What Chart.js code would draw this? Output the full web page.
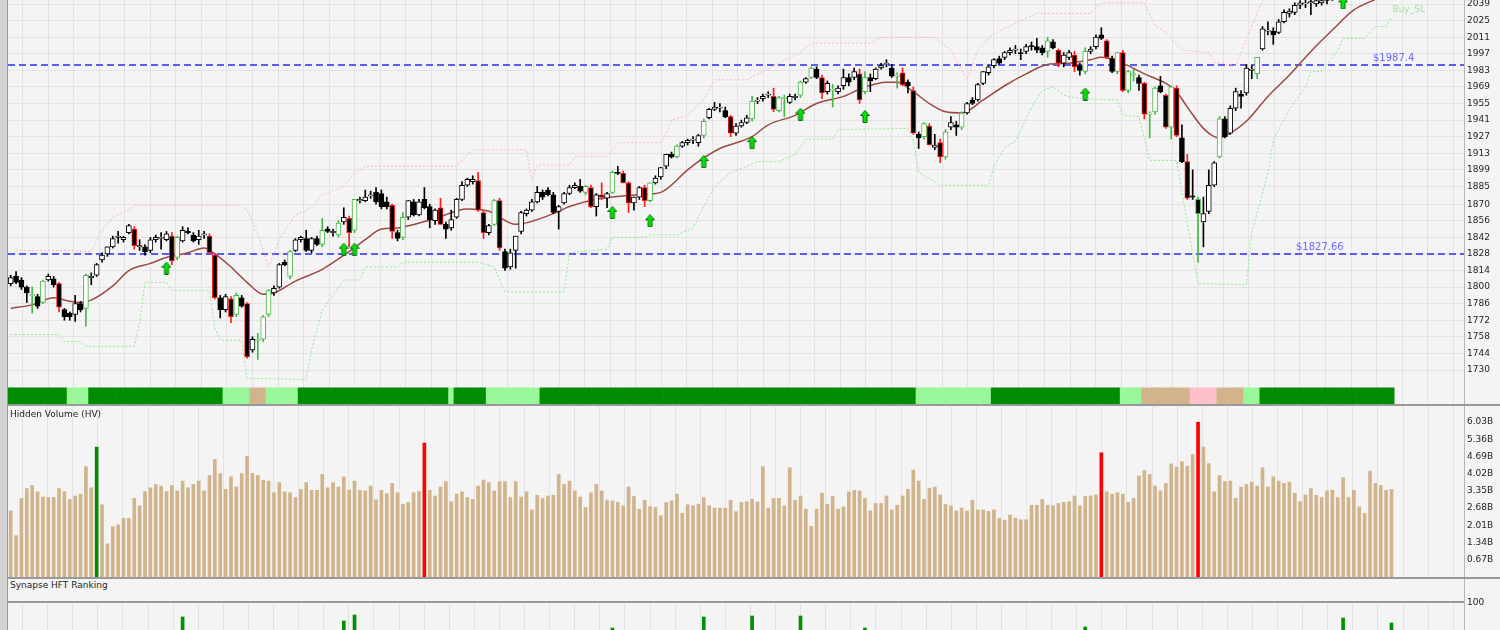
<!DOCTYPE html>
<html lang="en">
<head>
<meta charset="utf-8">
<title>Hidden Volume / Synapse HFT Ranking</title>
<script src="https://cdn.jsdelivr.net/npm/chart.js@4.4.1/dist/chart.umd.min.js"></script>
<style>
    html, body { margin: 0; padding: 0; }
    body { width: 1500px; height: 630px; overflow: hidden; position: relative; background: #f4f4f4; font-family: "DejaVu Sans", sans-serif; }
    canvas { position: absolute; left: 0; }
    #priceChart { top: 0; }
    #volumeChart { top: 406px; }
    #hftChart { top: 590px; }
    .left-strip { position: absolute; left: 0; top: 0; width: 7px; height: 630px; background: #d3d3d3; border-right: 1px solid #9a9a9a; }
    .axis-line { position: absolute; left: 1464px; top: 0; width: 1px; height: 630px; background: #b8b8b8; }
    .sep { position: absolute; left: 8px; height: 2px; background: #999; }
    .panel-title { position: absolute; left: 10px; font-size: 9px; color: #222; }
</style>
</head>
<body>
<div class="left-strip"></div>
<div class="axis-line"></div>
<canvas id="priceChart" width="1500" height="404"></canvas>
<canvas id="volumeChart" width="1500" height="171"></canvas>
<canvas id="hftChart" width="1500" height="113"></canvas>
<div class="sep" style="top:404px;width:1492px"></div>
<div class="sep" style="top:577px;width:1492px"></div>
<div class="sep" style="top:601px;width:1456px"></div>
<div class="panel-title" style="top:409px">Hidden Volume (HV)</div>
<div class="panel-title" style="top:580px">Synapse HFT Ranking</div>
<script>
// daily candles: [open, high, low, close]
const candles = [
    [1803,1810,1801,1808],[1809,1813,1803,1804],[1806,1808,1798,1800],[1800,1801,1787,1795],[1793,1800,1778,1794],
    [1792,1794,1782,1784],[1787,1806,1786,1805],[1806,1811,1805,1809],[1807,1809,1800,1802],[1803,1804,1779,1783],
    [1781,1782,1772,1775],[1778,1779,1772,1775],[1777,1793,1771,1786],[1786,1788,1779,1781],[1782,1811,1767,1810],
    [1808,1812,1802,1809],[1810,1820,1809,1819],[1823,1829,1821,1827],[1828,1834,1826,1834],[1834,1843,1833,1841],
    [1842,1847,1837,1843],[1840,1843,1838,1842],[1846,1853,1845,1852],[1849,1851,1832,1835],[1834,1840,1831,1835],
    [1834,1836,1827,1830],[1831,1842,1829,1840],[1840,1844,1838,1842],[1841,1846,1832,1842],[1840,1847,1839,1845],
    [1843,1846,1819,1822],[1825,1843,1823,1842],[1839,1851,1838,1848],[1847,1850,1845,1846],[1844,1846,1838,1839],
    [1840,1848,1836,1843],[1844,1847,1841,1845],[1843,1845,1828,1829],[1827,1828,1790,1791],[1791,1793,1774,1781],
    [1781,1794,1779,1792],[1790,1792,1770,1775],[1777,1795,1775,1793],[1791,1793,1783,1784],[1786,1787,1740,1741],
    [1747,1758,1745,1756],[1755,1761,1739,1756],[1756,1776,1754,1775],[1777,1798,1775,1797],[1795,1801,1793,1799],
    [1800,1820,1799,1819],[1821,1823,1818,1819],[1809,1831,1807,1830],[1831,1841,1830,1840],[1840,1843,1838,1842],
    [1841,1848,1830,1831],[1831,1842,1829,1841],[1841,1843,1835,1836],[1836,1858,1834,1848],[1849,1851,1846,1847],
    [1846,1849,1843,1847],[1844,1856,1842,1854],[1855,1867,1853,1859],[1858,1860,1834,1846],[1848,1874,1846,1874],
    [1873,1876,1871,1874],[1873,1882,1872,1876],[1877,1881,1875,1878],[1880,1884,1870,1872],[1879,1882,1866,1868],
    [1872,1876,1866,1868],[1869,1870,1841,1847],[1846,1848,1839,1841],[1842,1863,1840,1859],[1859,1873,1857,1873],
    [1872,1874,1860,1861],[1861,1874,1860,1872],[1874,1884,1866,1867],[1868,1870,1850,1857],[1856,1866,1853,1865],
    [1867,1875,1853,1853],[1853,1855,1841,1849],[1850,1865,1848,1857],[1859,1875,1858,1874],[1874,1889,1873,1886],
    [1886,1892,1885,1891],[1889,1894,1887,1891],[1890,1897,1864,1865],[1863,1864,1841,1846],[1846,1853,1844,1852],
    [1853,1874,1852,1873],[1873,1875,1831,1833],[1830,1832,1814,1816],[1817,1832,1815,1829],[1831,1843,1816,1843],
    [1847,1864,1845,1863],[1862,1866,1860,1865],[1865,1874,1864,1872],[1872,1885,1871,1880],[1880,1882,1874,1876],
    [1882,1884,1877,1878],[1878,1880,1862,1863],[1864,1869,1849,1868],[1871,1880,1870,1879],[1879,1886,1878,1884],
    [1884,1888,1883,1886],[1885,1891,1880,1881],[1880,1886,1878,1885],[1884,1886,1867,1868],[1868,1879,1860,1878],
    [1878,1888,1874,1876],[1875,1880,1867,1879],[1880,1898,1879,1897],[1897,1902,1895,1896],[1896,1898,1888,1888],
    [1888,1889,1863,1871],[1871,1876,1865,1876],[1876,1885,1874,1884],[1884,1886,1868,1873],[1873,1888,1872,1888],
    [1888,1894,1887,1892],[1893,1901,1891,1901],[1902,1912,1900,1912],[1912,1914,1909,1910],[1910,1920,1909,1919],
    [1919,1923,1918,1922],[1922,1925,1920,1924],[1924,1927,1921,1925],[1922,1929,1919,1928],[1928,1942,1926,1940],
    [1943,1951,1942,1950],[1950,1956,1949,1952],[1951,1955,1948,1952],[1949,1952,1943,1944],[1944,1945,1927,1930],
    [1930,1938,1928,1936],[1936,1941,1935,1939],[1939,1945,1938,1943],[1942,1961,1940,1957],[1957,1960,1955,1958],
    [1959,1963,1957,1961],[1962,1965,1960,1963],[1961,1968,1948,1950],[1949,1961,1948,1960],[1959,1962,1944,1960],
    [1956,1963,1955,1961],[1960,1963,1958,1961],[1962,1974,1960,1973],[1973,1977,1972,1976],[1977,1986,1976,1985],
    [1984,1986,1976,1977],[1977,1979,1959,1964],[1965,1974,1963,1972],[1966,1971,1952,1967],[1965,1970,1963,1968],
    [1970,1984,1967,1977],[1977,1980,1970,1973],[1977,1985,1975,1982],[1980,1984,1955,1958],[1965,1982,1963,1977],
    [1977,1980,1965,1974],[1976,1985,1975,1984],[1985,1989,1984,1987],[1988,1992,1986,1989],[1985,1988,1977,1978],
    [1978,1981,1968,1979],[1981,1985,1970,1971],[1973,1975,1964,1970],[1966,1969,1929,1930],[1929,1931,1917,1926],
    [1927,1939,1925,1938],[1936,1938,1920,1920],[1918,1929,1916,1920],[1922,1925,1905,1910],[1910,1933,1908,1931],
    [1935,1944,1933,1939],[1937,1940,1928,1935],[1935,1948,1933,1947],[1947,1956,1946,1955],[1958,1960,1954,1955],
    [1958,1972,1957,1971],[1972,1982,1971,1982],[1981,1987,1979,1986],[1987,1993,1985,1992],[1993,1995,1988,1989],
    [1994,1999,1992,1998],[1998,2002,1996,2000],[2000,2004,1997,2001],[1998,2001,1992,1997],[1999,2005,1997,2003],
    [2004,2007,2000,2003],[2003,2010,1998,2000],[2002,2004,1996,1998],[1999,2011,1994,2008],[2007,2009,2001,2002],
    [2000,2001,1986,1989],[1989,1998,1986,1996],[1994,2000,1992,1998],[1996,1999,1982,1986],[1987,1989,1979,1983],
    [1982,2002,1980,1999],[1999,2003,1997,2001],[2003,2013,2001,2011],[2013,2019,2009,2010],[2008,2009,1993,1994],
    [1993,1995,1981,1982],[1982,1998,1980,1998],[1998,2000,1965,1966],[1966,1983,1964,1982],[1979,1984,1974,1980],
    [1977,1979,1966,1972],[1972,1973,1942,1946],[1946,1948,1926,1947],[1948,1969,1946,1968],[1970,1978,1964,1965],
    [1962,1963,1934,1935],[1935,1970,1925,1969],[1968,1970,1927,1928],[1926,1937,1905,1906],[1906,1912,1874,1875],
    [1877,1899,1874,1876],[1874,1876,1821,1862],[1855,1876,1834,1862],[1864,1899,1862,1886],[1886,1906,1885,1905],
    [1910,1944,1909,1942],[1942,1944,1926,1927],[1930,1953,1929,1951],[1951,1968,1949,1965],[1963,1966,1951,1961],
    [1964,1988,1962,1985],[1983,1987,1976,1984],[1980,1994,1976,1994],[2001,2020,2000,2018],[2016,2024,2013,2017],
    [2016,2019,2005,2013],[2015,2026,2014,2024],[2024,2034,2023,2032],[2031,2035,2028,2033],[2032,2040,2030,2038],
    [2038,2042,2035,2040],[2039,2043,2036,2040],[2040,2044,2030,2041],[2039,2044,2037,2042],[2040,2044,2038,2042],
    [2042,2047,2039,2045],[2045,2049,2042,2047],[2047,2051,2044,2049],[2049,2052,2046,2048],[2048,2053,2045,2051],
    [2051,2056,2049,2055],[2055,2059,2052,2057],[2057,2061,2054,2059],[2059,2063,2055,2058],[2058,2062,2055,2061],
    [2061,2066,2058,2064],[2064,2067,2060,2062],[2062,2068,2060,2066]
];

// candle outline signal: n = plain, g = green, r = red
const candleTone = (
    'nnnngngnnr' + 'nnnngnnnnn' + 'nnnrnnnnnn' + 'rgnnnnnrrn' + 'nrgnrngggn' +
    'nngnnnnngn' + 'ngnrgnnnnn' + 'nrngnnnnnn' + 'rnnnnnnrrn' + 'grnnnnnnnn' +
    'nnnnnnngrn' + 'rngnrrnnrg' + 'nnnngnnnng' + 'nnnnrnnngn' + 'nnrggnngng' +
    'nrngnnnnrg' + 'nnnnngrnrn' + 'grnrgnngnn' + 'nnnnnnnnnn' + 'nnngnrnnrn' +
    'gnnnrngrgg' + 'nrggnrgrnr' + 'ngnnngnnnn' + 'nngnnnnnnn' + 'nnnnnnnnnn' + 'nnnnnnnn'
).split('');

// moving average, read at points along the line: [bar, price]
const maPoints = [
    [0,1782],[4,1785],[8,1791],[11,1788],[13,1787],[15,1789],[19,1801],[22,1814],[26,1820],[29,1825],
    [33,1829],[36,1833],[38,1828],[41,1817],[44,1804],[47,1794],[49,1795],[53,1805],[58,1815],[63,1830],
    [66,1840],[69,1849],[72,1850],[79,1858],[85,1866],[89,1864],[94,1853],[101,1862],[104,1868],[110,1875],
    [117,1878],[121,1880],[126,1899],[128,1906],[132,1917],[138,1927],[141,1937],[146,1945],[150,1955],[155,1961],
    [159,1969],[163,1973],[165,1973],[168,1965],[171,1955],[174,1948],[177,1947],[181,1958],[185,1970],[189,1980],
    [193,1988],[197,1989],[201,1992],[203,1994],[206,1991],[211,1980],[215,1972],[217,1965],[219,1952],[222,1934],
    [224,1927],[225,1926],[227,1930],[230,1940],[234,1961],[238,1979],[242,1999],[246,2017],[250,2034],[254,2043],
    [257,2050]
];

// upper channel (pink dotted)
const upperPoints = [
    [1,1831],[10,1831],[15,1830],[17,1848],[19,1859],[22,1865],[23,1869],[43,1869],[44,1865],[46,1845],
    [48,1817],[50,1840],[53,1861],[56,1867],[58,1878],[62,1885],[64,1896],[66,1902],[83,1902],[86,1916],
    [96,1916],[97,1890],[98,1903],[104,1903],[105,1910],[111,1910],[113,1922],[121,1922],[122,1930],[123,1941],
    [126,1945],[129,1958],[131,1975],[137,1975],[142,1987],[147,1998],[149,2006],[160,2006],[162,2011],[172,2011],
    [175,2000],[178,1975],[180,2000],[183,2014],[189,2027],[191,2031],[201,2031],[203,2040],[211,2040],[213,2021],
    [215,2015],[218,2000],[223,1998],[224,1990],[228,1987],[230,2009],[233,2042],[235,2055]
];

// lower channel (green dotted, Buy_SL)
const lowerPoints = [
    [0,1760],[9,1760],[10,1754],[13,1754],[14,1750],[23,1750],[24,1770],[25,1804],[29,1804],[30,1797],
    [37,1797],[38,1766],[39,1755],[43,1755],[44,1723],[55,1722],[56,1747],[58,1781],[62,1806],[65,1806],
    [66,1817],[72,1817],[73,1821],[87,1821],[90,1817],[92,1796],[103,1796],[104,1829],[111,1832],[112,1842],
    [118,1842],[119,1844],[124,1844],[127,1850],[129,1868],[131,1885],[134,1897],[137,1902],[139,1906],[143,1906],
    [146,1912],[148,1925],[153,1925],[154,1933],[167,1934],[168,1924],[169,1897],[173,1886],[182,1886],[183,1902],
    [185,1918],[187,1923],[190,1952],[192,1966],[194,1969],[196,1962],[199,1959],[206,1958],[207,1945],[210,1944],
    [212,1907],[217,1907],[219,1854],[221,1803],[230,1802],[231,1846],[234,1896],[235,1924],[238,1950],[241,1969],
    [242,1982],[244,1982],[247,2000],[248,2010],[252,2010],[254,2020],[256,2020],[257,2028]
];

// buy signals under the candles: [bar, price]
const buyArrows = [
    [29,1816],[62,1832],[64,1832],[112,1863],[119,1856],[129,1906],[138,1922],[147,1946],[159,1944],[200,1963],[248,2040]
];

const levels = [1987.4, 1827.66];
const priceTicks = [1730,1744,1758,1772,1786,1800,1814,1828,1842,1856,1870,1885,1899,1913,1927,1941,1955,1969,1983,1997,2011,2025,2039];

// trend strip under the price panel: last bar of each run and its state
const bandEnds = [10,14,39,44,47,53,81,82,88,98,168,182,206,210,219,224,229,232,257];
const bandStates = ['strong','weak','strong','weak','neutral','weak','strong','weak','strong','weak','strong','weak','strong','weak','neutral','bear','neutral','weak','strong'];

// hidden volume, billions
const volumes = [
    2.57,1.61,3.06,3.44,3.56,3.31,3.11,3.09,3.09,3.44, 3.32,3.02,3.15,3.22,4.29,3.47,5.05,2.81,1.29,1.96,
    2.03,2.28,2.28,3.06,2.77,3.32,3.47,3.60,3.54,3.32, 3.56,3.35,3.73,3.47,3.60,3.73,3.35,3.95,4.57,4.02,
    3.41,3.90,3.50,4.02,4.70,4.03,3.95,3.76,3.73,3.28, 3.67,3.31,3.28,3.09,3.41,3.67,3.37,3.37,3.99,3.47,
    3.67,3.50,3.89,3.38,3.73,3.37,3.35,3.54,3.00,3.37, 3.24,3.64,3.28,2.83,2.90,3.28,3.32,5.21,3.37,3.15,
    3.50,3.71,2.93,3.22,3.31,3.09,3.02,3.54,3.77,3.67, 3.35,3.71,3.71,3.09,3.71,3.11,3.31,2.61,3.18,3.05,
    3.15,3.18,3.99,3.60,3.73,3.35,3.11,2.70,3.28,3.60, 3.35,2.99,2.96,2.90,2.77,3.50,3.13,2.64,2.99,2.74,
    2.70,2.38,2.90,2.96,3.22,2.48,2.81,2.77,2.83,3.09, 2.77,2.68,2.68,2.68,2.99,2.54,2.90,2.93,
    3.02,2.92,4.29,2.68,3.06,3.06,2.77,4.25,2.99,3.15, 2.64,1.97,2.64,3.26,2.83,3.13,2.64,2.73,3.31,3.37,
    3.35,3.06,2.57,2.86,2.86,3.15,2.61,2.79,3.15,3.41, 4.16,3.73,3.02,3.45,3.50,3.19,2.83,2.77,2.57,2.68,
    2.57,2.99,2.61,2.61,2.55,2.61,2.28,2.21,2.41,2.29, 2.23,2.23,2.79,2.79,3.02,2.79,2.77,2.86,2.90,2.93,
    3.15,2.77,3.13,3.15,3.19,4.83,3.31,3.22,3.28,3.22, 2.90,3.06,3.93,4.14,3.99,3.54,3.35,3.64,4.40,4.27,
    4.48,4.31,4.76,6.02,5.05,4.41,3.31,3.95,3.71,3.73, 3.06,3.50,3.60,3.69,3.54,4.25,3.50,3.90,3.73,3.64,
    3.69,3.26,2.93,3.19,3.44,3.18,3.09,3.35,3.37,3.09, 3.86,3.09,3.37,2.73,2.47,4.12,3.64,3.56,3.37,3.41
];
const volumeGreen = [16];
const volumeRed = [77, 203, 221];
const volumeTicks = [0.67, 1.34, 2.01, 2.68, 3.35, 4.02, 4.69, 5.36, 6.03];

// Synapse HFT ranking spikes: [bar, rank]
const hftSpikes = [[32,86],[62,82],[64,88],[112,75],[129,86],[138,87],[147,87],[159,75],[200,76],[248,85],[257,80]];
const hftTicks = [100];

const N = candles.length;
const SLOTS = 271;  // bars plus the empty space on the right
const labels = Array.from({ length: SLOTS }, (_, i) => i);

const GRID = '#e3e3e3';
const TEXT = '#1e1e1e';
const toneColors = { n: '#000000', g: '#45b845', r: '#ff1a1a' };
const bandColors = { strong: '#008c00', weak: '#99f799', neutral: '#d2b48c', bear: '#ffc0cb' };

Chart.defaults.font.family = '"DejaVu Sans", sans-serif';

function sparse(points) {
    const out = new Array(N).fill(null);
    points.forEach(([i, v]) => { out[i] = v; });
    return out;
}

function gridAxis() {
    return {
        type: 'linear', position: 'bottom', min: -0.57, max: 56.42,
        ticks: { display: false, stepSize: 1, includeBounds: false },
        grid: { color: GRID, drawTicks: false },
        border: { display: false },
        afterFit: s => { s.height = 0; }
    };
}

function rightAxis(min, max, ticks, format, showGrid) {
    return {
        position: 'right', min: min, max: max,
        afterBuildTicks: s => { s.ticks = ticks.map(v => ({ value: v })); },
        ticks: { color: TEXT, font: { size: 9 }, padding: 3, callback: v => format(v) },
        grid: { display: showGrid, color: GRID, drawTicks: false },
        border: { display: true, color: '#b8b8b8' },
        // keep the plot flush with the panel edges, labels may overhang
        afterFit: s => {
            s.width = 36;
            s.paddingTop = 0;
            s.paddingBottom = 0;
        }
    };
}

function panelLayout(top) {
    return { autoPadding: false, padding: { left: 8, right: 0, top: top, bottom: 0 } };
}

const baseOptions = {
    responsive: false,
    animation: false,
    devicePixelRatio: 1,
    events: [],
    plugins: { legend: { display: false }, tooltip: { enabled: false } }
};

// green up-arrow marker
const arrowImg = document.createElement('canvas');
arrowImg.width = 10;
arrowImg.height = 13;
(() => {
    const g = arrowImg.getContext('2d');
    g.beginPath();
    g.moveTo(5, 0.5);
    g.lineTo(9.5, 5.5);
    g.lineTo(7, 5.5);
    g.lineTo(7, 12.5);
    g.lineTo(3, 12.5);
    g.lineTo(3, 5.5);
    g.lineTo(0.5, 5.5);
    g.closePath();
    g.fillStyle = '#00e600';
    g.fill();
    g.strokeStyle = '#0b6e0b';
    g.lineWidth = 1;
    g.stroke();
})();

const isUp = candles.map(c => c[3] >= c[0]);
const bodyFill = isUp.map(u => (u ? '#ffffff' : '#000000'));
const bodyBorder = candleTone.map(t => toneColors[t]);
const wickColor = candleTone.map(t => toneColors[t]);

const bandColorList = [];
let runStart = 0;
bandEnds.forEach((end, k) => {
    for (let i = runStart; i <= end; i++) bandColorList[i] = bandColors[bandStates[k]];
    runStart = end + 1;
});

const levelPlugin = {
    id: 'levels',
    beforeDatasetsDraw(chart) {
        const { ctx, chartArea } = chart;
        const y = chart.scales.y;
        ctx.save();
        ctx.strokeStyle = '#5c5cf2';
        ctx.lineWidth = 2;
        ctx.setLineDash([7, 4]);
        levels.forEach(level => {
            const py = Math.round(y.getPixelForValue(level));
            ctx.beginPath();
            ctx.moveTo(chartArea.left, py);
            ctx.lineTo(chartArea.right, py);
            ctx.stroke();
        });
        ctx.restore();
    },
    afterDatasetsDraw(chart) {
        const { ctx, chartArea } = chart;
        const y = chart.scales.y;
        const offsets = [91, 168];
        ctx.save();
        ctx.font = '10px "DejaVu Sans"';
        ctx.fillStyle = '#6a6aff';
        ctx.textBaseline = 'bottom';
        levels.forEach((level, k) => {
            ctx.fillText('$' + level, chartArea.right - offsets[k], y.getPixelForValue(level) - 2);
        });
        // name of the lower channel at its last point
        const meta = chart.getDatasetMeta(2);
        const last = meta.data[N - 1];
        ctx.fillStyle = '#98e898';
        ctx.font = '9px "DejaVu Sans"';
        ctx.textBaseline = 'middle';
        ctx.fillText('Buy_SL', last.x + 1, last.y - 7);
        ctx.restore();
    }
};

new Chart(document.getElementById('priceChart'), {
    data: {
        labels: labels,
        datasets: [
            {
                type: 'bar', data: bandColorList.map(() => [0, 1]), backgroundColor: bandColorList,
                xAxisID: 'x', yAxisID: 'yb', grouped: false, barPercentage: 1, categoryPercentage: 1, order: 10
            },
            {
                type: 'line', data: sparse(upperPoints), borderColor: '#ffb4bf', borderWidth: 1, borderDash: [2, 2],
                pointRadius: 0, spanGaps: true, xAxisID: 'x', yAxisID: 'y', order: 9
            },
            {
                type: 'line', data: sparse(lowerPoints), borderColor: '#8fe88f', borderWidth: 1, borderDash: [2, 2],
                pointRadius: 0, spanGaps: true, xAxisID: 'x', yAxisID: 'y', order: 9
            },
            {
                type: 'line', data: sparse(maPoints), borderColor: '#9a4a40', borderWidth: 1.5,
                pointRadius: 0, spanGaps: true, cubicInterpolationMode: 'monotone', xAxisID: 'x', yAxisID: 'y', order: 8
            },
            {
                type: 'bar', data: candles.map(c => [c[2], c[1]]), backgroundColor: wickColor,
                barThickness: 1, grouped: false, xAxisID: 'x', yAxisID: 'y', order: 7
            },
            {
                type: 'bar', data: candles.map(c => [c[0], c[3]]), backgroundColor: bodyFill, borderColor: bodyBorder,
                borderWidth: 1, borderSkipped: false, barThickness: 5, grouped: false, xAxisID: 'x', yAxisID: 'y', order: 6
            },
            {
                type: 'line', data: sparse(buyArrows), showLine: false, pointStyle: arrowImg,
                xAxisID: 'x', yAxisID: 'y', order: 4
            }
        ]
    },
    options: {
        ...baseOptions,
        layout: panelLayout(0),
        scales: {
            x: { type: 'category', display: false },
            xg: gridAxis(),
            y: rightAxis(1701.3, 2042.4, priceTicks, v => String(v), true),
            yb: { display: false, min: 0, max: 25 }
        }
    },
    plugins: [levelPlugin]
});

new Chart(document.getElementById('volumeChart'), {
    type: 'bar',
    data: {
        labels: labels,
        datasets: [{
            data: volumes,
            backgroundColor: volumes.map((_, i) =>
                volumeGreen.includes(i) ? '#008a00' : volumeRed.includes(i) ? '#ff0000' : '#d2b48c'),
            barThickness: 3,
            xAxisID: 'x', yAxisID: 'y'
        }]
    },
    options: {
        ...baseOptions,
        layout: panelLayout(0),
        scales: {
            x: { type: 'category', display: false },
            xg: gridAxis(),
            y: rightAxis(0, 6.65, volumeTicks, v => v.toFixed(2) + 'B', false)
        }
    }
});

new Chart(document.getElementById('hftChart'), {
    type: 'bar',
    data: {
        labels: labels,
        datasets: [{
            data: sparse(hftSpikes),
            backgroundColor: '#009000',
            barThickness: 3,
            xAxisID: 'x', yAxisID: 'y'
        }]
    },
    options: {
        ...baseOptions,
        layout: panelLayout(13),
        scales: {
            x: { type: 'category', display: false },
            xg: gridAxis(),
            y: rightAxis(0, 100, hftTicks, v => String(v), false)
        }
    }
});
</script>
</body>
</html>
